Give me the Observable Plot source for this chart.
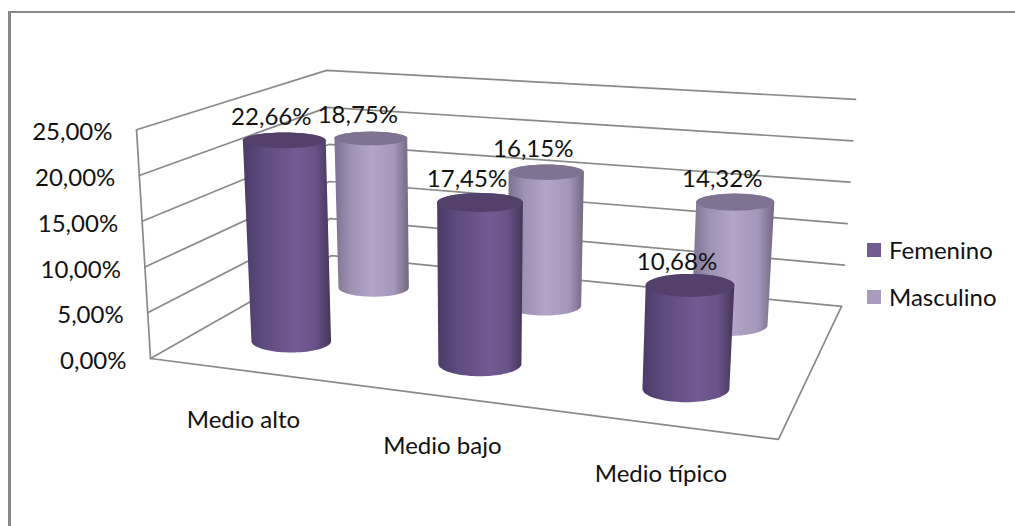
<!DOCTYPE html>
<html>
<head>
<meta charset="utf-8">
<script src="https://cdn.jsdelivr.net/npm/d3@7"></script>
<script src="https://cdn.jsdelivr.net/npm/@observablehq/plot@0.6"></script>
<style>
  html, body { margin: 0; padding: 0; background: #fff; }
  #chart { position: relative; width: 1015px; height: 526px; overflow: hidden; font-family: Lato, sans-serif; }
  #chart svg { display: block; position: absolute; left: 0; top: 0; }
  #frame { position: absolute; left: 8px; top: 11px; right: -4px; bottom: -4px; border-left: 3px solid #878787; border-top: 2px solid #878787; }
  #legend { position: absolute; left: 867px; top: 226px; color: #111; font-size: 24px; font-weight: 400; }
  #legend div { display: flex; align-items: center; height: 47px; }
  #legend i { display: block; width: 14px; height: 14px; margin-right: 8px; }
</style>
</head>
<body>
<div id="chart"><div id="frame"></div><div id="legend"></div></div>
<script>
const categories = ["Medio alto", "Medio bajo", "Medio típico"];
const femenino = [22.66, 17.45, 10.68];
const masculino = [18.75, 16.15, 14.32];
const ticks = [0, 5, 10, 15, 20, 25];
const seriesNames = ["Femenino", "Masculino"];

const pct = (v) => v.toFixed(2).replace(".", ",") + "%";
const catPos = (i) => (i + 0.5) / categories.length;
const depthPos = [0.23, 0.73];
const rowSkew = [0, -0.01];

// Perspective camera of the 3-D chart box: floor homography plus vertical lift.
const cam = { a: 525.6, b: 281.8, c: 150, d: 23.2, e: -32.9, f: 358, g: -0.1316, h: 0.27, vx: 476, vy: 5700 };
const persp = (s, t) => 1 + cam.g * s + cam.h * t;
function project(s, t, v) {
  const w = persp(s, t);
  const fx = (cam.a * s + cam.b * t + cam.c) / w;
  const fy = (cam.d * s + cam.e * t + cam.f) / w;
  const lift = (9.15 + 0.28 * t) * v / w;
  const k = lift / (cam.vy - fy);
  return { x: fx + (fx - cam.vx) * k, y: fy - lift };
}

// Grid: left wall + back wall, floor outline
const grid = ticks.flatMap((v) => [[0, 0], [-0.02, 1], [1, 1]].map(([s, t]) => ({ id: "g" + v, ...project(s, t, v) })));
const leftEdge = [0, 25].map((v) => ({ id: "e", ...project(0, 0, v) }));
const floor = [[0, 0], [1, 0], [1, 1]].map(([s, t]) => ({ id: "f", ...project(s, t, 0) }));

// Cylinders
const bars = [femenino, masculino].flatMap((vals, si) => vals.map((v, ci) => {
  const s0 = catPos(ci);
  return { ci, si, v, s: s0 + rowSkew[si] * (1 - s0), t: depthPos[si] };
}));
const flat = (y) => 0.19 + (y - 140) * 0.00048;
function ring(b, v, a0, a1) {
  const c = project(b.s, b.t, v);
  const rx = (41.4 / persp(b.s, b.t)) * (1 + v * 0.0018);
  const ry = rx * flat(c.y);
  return d3.range(0, 41).map((i) => {
    const a = a0 + ((a1 - a0) * i) / 40;
    return { x: c.x + rx * Math.cos(a), y: c.y + ry * Math.sin(a) };
  });
}
const body = (si) => bars.filter((b) => b.si === si).flatMap((b) =>
  [...ring(b, 0, Math.PI, 0), ...ring(b, b.v, 0, -Math.PI)].map((p) => ({ id: b.ci, ...p })));
const cap = (si) => bars.filter((b) => b.si === si).flatMap((b) =>
  ring(b, b.v, 0, 2 * Math.PI).map((p) => ({ id: b.ci, ...p })));

const labels = bars.map((b) => {
  const p = project(b.s, b.t, b.v);
  return { x: p.x, y: p.y, text: pct(b.v) };
});
const tickPts = ticks.map((v) => ({ ...project(0, 0, v), text: pct(v) }));
const catPts = categories.map((c, i) => ({ ...project(catPos(i), 0, 0), text: c }));

function defs() {
  const d = d3.create("svg:defs");
  const add = (id, stops) => {
    const g = d.append("linearGradient").attr("id", id).attr("x1", 0).attr("x2", 1).attr("y1", 0).attr("y2", 0);
    stops.forEach(([o, c]) => g.append("stop").attr("offset", o).attr("stop-color", c));
  };
  add("femBody", [[0, "#4a3b67"], [0.25, "#5f4c80"], [0.6, "#735a93"], [0.82, "#6a5389"], [1, "#443559"]]);
  add("masBody", [[0, "#7b7190"], [0.22, "#9f92b3"], [0.5, "#b3a4c8"], [0.8, "#a597b9"], [1, "#726880"]]);
  return d.node();
}

const gridStyle = { x: "x", y: "y", z: "id", stroke: "#8a8a8a", strokeWidth: 1.7 };
const txt = { fontFamily: "Lato, sans-serif", fontSize: 24, fontWeight: 400, fill: "#111", text: "text", lineAnchor: "middle" };

const plot = Plot.plot({
  width: 1015, height: 526, margin: 0,
  style: { background: "transparent" },
  x: { domain: [0, 1015], range: [0, 1015], axis: null },
  y: { domain: [0, 526], range: [0, 526], axis: null },
  marks: [
    defs,
    Plot.line(grid, gridStyle),
    Plot.line(leftEdge, gridStyle),
    Plot.line(floor, gridStyle),
    Plot.line(body(1), { x: "x", y: "y", z: "id", fill: "url(#masBody)", stroke: "none" }),
    Plot.line(cap(1), { x: "x", y: "y", z: "id", fill: "#7f7392", stroke: "none" }),
    Plot.line(body(0), { x: "x", y: "y", z: "id", fill: "url(#femBody)", stroke: "none" }),
    Plot.line(cap(0), { x: "x", y: "y", z: "id", fill: "#54416b", stroke: "none" }),
    Plot.text(tickPts, { ...txt, x: "x", y: "y", dx: -24, dy: 3, textAnchor: "end" }),
    Plot.text(catPts, { ...txt, x: "x", y: "y", dy: 50, textAnchor: "middle" }),
    Plot.text(labels, { ...txt, x: "x", y: "y", dx: -13, dy: -23, textAnchor: "middle" })
  ]
});
document.getElementById("chart").appendChild(plot);

const swatch = ["#725a92", "#a99bbd"];
document.getElementById("legend").innerHTML = seriesNames
  .map((n, i) => `<div><i style="background:${swatch[i]}"></i>${n}</div>`).join("");
</script>
</body>
</html>
